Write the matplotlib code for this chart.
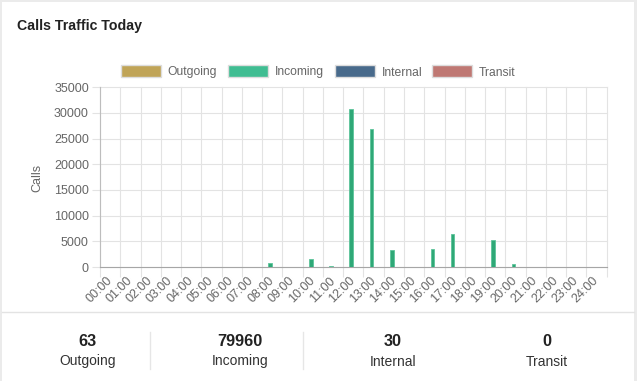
import numpy as np
import matplotlib
matplotlib.use('Agg')
import matplotlib.pyplot as plt
from matplotlib.patches import Rectangle
from matplotlib.lines import Line2D

# hourly call counts
hours = ['%02d:00' % h for h in range(25)]
outgoing = [0] * 25
incoming = [0, 0, 0, 0, 0, 0, 0, 0, 700, 0, 1650, 250, 30800, 26800, 3300,
            0, 3550, 6500, 0, 5300, 600, 0, 0, 0, 0]
internal = [0] * 25
transit = [0] * 25

series_names = ['Outgoing', 'Incoming', 'Internal', 'Transit']
fill_colors = ['#c0a457', '#40bd92', '#486a8b', '#bf7873']
edge_colors = ['#a89049', '#5cc49a', '#3b5a78', '#a86560']

# summary row under the chart
totals = [63, 79960, 30, 0]

W, H = 637, 381
plt.rcParams['font.family'] = ['Liberation Sans', 'DejaVu Sans']

fig = plt.figure(figsize=(W / 100, H / 100), dpi=100)
fig.patch.set_facecolor('#ebebeb')


def fx(px):
    return px / W


def fy(py):
    return 1 - py / H


# white card
fig.patches.append(Rectangle((fx(2), 0), fx(632), fy(2), transform=fig.transFigure,
                             facecolor='white', edgecolor='none', zorder=-1))
fig.lines.append(Line2D([fx(2), fx(634)], [fy(311.5), fy(311.5)], transform=fig.transFigure,
                        color='#e3e3e3', linewidth=1))
for sx in [150, 303]:
    fig.lines.append(Line2D([fx(sx), fx(sx)], [fy(332), fy(369)], transform=fig.transFigure,
                            color='#e6e6e6', linewidth=1))

fig.text(fx(17), fy(26), 'Calls Traffic Today', fontsize=10.2, fontweight='bold',
         color='#222222', ha='left', va='center')

# legend
box_x = [121, 228, 335, 432]
for name, fc, ec, bx in zip(series_names, fill_colors, edge_colors, box_x):
    fig.patches.append(Rectangle((fx(bx), fy(77)), fx(40), 12 / H, transform=fig.transFigure,
                                 facecolor=fc, edgecolor='#dddddd', linewidth=1))
    fig.text(fx(bx + 46.5), fy(75.5), name, fontsize=8.7, color='#666666',
             ha='left', va='baseline')

ax = fig.add_axes([fx(100), 1 - 267 / H, (606.7 - 100) / W, (267 - 87.3) / H])
ax.set_zorder(1)
ax.patch.set_alpha(0)

x = np.arange(len(hours))
bw = 0.8 / 4 * 0.9
offsets = [-0.3, -0.1, 0.1, 0.3]
for vals, off, fc, ec in zip([outgoing, incoming, internal, transit], offsets, fill_colors, edge_colors):
    col = '#2fa877' if fc == '#40bd92' else fc
    ax.bar(x + off, vals, width=bw, color=col, edgecolor=ec, linewidth=0.6, zorder=3)

ax.set_xlim(-0.5, 24.5)
ax.set_ylim(0, 35000)
ax.set_yticks(np.arange(0, 35001, 5000))
ax.set_xticks(x)
ax.set_xticklabels(hours, rotation=45, ha='right', va='center', rotation_mode='anchor')
ax.set_xticks(np.arange(-0.5, 25, 1), minor=True)

ax.tick_params(axis='x', which='major', length=0, pad=8.6, labelsize=9, labelcolor='#666666')
ax.tick_params(axis='x', which='minor', length=7.2, color='#e3e3e3', width=0.8)
ax.tick_params(axis='y', length=5.5, color='#e3e3e3', width=0.8, pad=2.5,
               labelsize=9, labelcolor='#666666')

ax.grid(True, axis='y', color='#e3e3e3', linewidth=0.8, zorder=0)
ax.grid(True, axis='x', which='minor', color='#e3e3e3', linewidth=0.8, zorder=0)
for t in ax.yaxis.get_major_ticks() + ax.xaxis.get_minor_ticks():
    t.gridline.set_clip_on(False)

for s in ['top', 'right']:
    ax.spines[s].set_visible(False)
ax.spines['left'].set_color('#bdbdbd')
ax.spines['bottom'].set_color('#a6a6a6')
ax.spines['left'].set_linewidth(0.8)
ax.spines['bottom'].set_linewidth(0.8)
ax.set_axisbelow(True)

fig.text(fx(37), fy(178), 'Calls', rotation=90, fontsize=9, color='#666666',
         ha='center', va='center')

# summary numbers
col_x = [87.5, 240, 393, 547]
for name, tot, cx in zip(series_names, totals, col_x):
    fig.text(fx(cx), fy(345.5), str(tot), fontsize=11.7, fontweight='bold', color='#222222',
             ha='center', va='baseline')
    fig.text(fx(cx), fy(365.5), name, fontsize=10, color='#333333', ha='center', va='baseline')

fig.savefig('out.png', dpi=100, facecolor=fig.get_facecolor())
